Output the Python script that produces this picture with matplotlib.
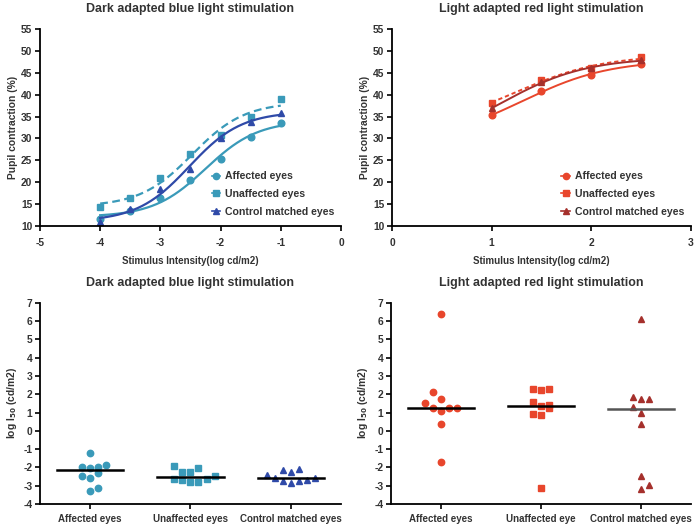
import matplotlib
matplotlib.use("Agg")
import matplotlib.pyplot as plt
from matplotlib.lines import Line2D
import numpy as np

plt.rcParams['font.family'] = ['Liberation Sans', 'DejaVu Sans']
plt.rcParams['font.weight'] = 'bold'
plt.rcParams['axes.unicode_minus'] = False

# Dose-response data (top row)
blue_x = [-4, -3.5, -3, -2.5, -2, -1.5, -1]
blue_affected = [11.5, 13.5, 16.3, 20.4, 25.3, 30.4, 33.5]
blue_unaffected = [14.4, 16.5, 20.9, 26.5, 30.8, 35.0, 39.0]
blue_control = [11.0, 13.8, 18.5, 23.0, 30.2, 33.8, 35.8]

red_x = [1, 1.5, 2, 2.5]
red_affected = [35.3, 40.8, 44.4, 47.0]
red_unaffected = [38.2, 43.3, 46.0, 48.5]
red_control = [36.9, 42.8, 46.0, 47.9]

# log I50 scatter data (bottom row)
groups_blue = ['Affected eyes', 'Unaffected eyes', 'Control matched eyes']
groups_red = ['Affected eyes', 'Unaffected eye', 'Control matched eyes']

i50_blue_aff = [-1.22, -1.96, -2.05, -1.96, -1.86, -2.45, -2.58, -2.28, -3.27, -3.10]
i50_blue_aff_off = [0, -1, 0, 1, 2, -1, 0, 1, 0, 1]
i50_blue_unaff = [-1.92, -2.23, -2.27, -2.05, -2.61, -2.69, -2.82, -2.82, -2.65, -2.49]
i50_blue_unaff_off = [-2, -1, 0, 1, -2, -1, 0, 1, 2, 3]
i50_blue_ctrl = [-2.43, -2.60, -2.16, -2.72, -2.27, -2.87, -2.08, -2.74, -2.69, -2.58]
i50_blue_ctrl_off = [-3, -2, -1, -1, 0, 0, 1, 1, 2, 3]
mean_blue = [-2.15, -2.52, -2.57]

i50_red_aff = [6.40, 2.12, 1.52, 1.75, 1.26, 1.10, 1.26, 1.26, 0.38, -1.68]
i50_red_aff_off = [0, -1, -2, 0, -1, 0, 1, 2, 0, 0]
i50_red_unaff = [2.28, 2.23, 2.28, 1.57, 1.37, 1.40, 1.26, 0.90, 0.84, -3.10]
i50_red_unaff_off = [-1, 0, 1, -1, 0, 1, 1, -1, 0, 0]
i50_red_ctrl = [6.12, 1.83, 1.75, 1.75, 1.33, 1.00, 0.40, -2.45, -3.18, -2.98]
i50_red_ctrl_off = [0, -1, 0, 1, -1, 0, 0, 0, 0, 1]
mean_red = [1.27, 1.38, 1.17]

teal = '#3a9ab9'
dblue = '#2f4aa8'
red = '#e8462c'
dred = '#a5302c'
txt = '#333333'


def fit_logistic(x, y, c_range):
    # log(agonist) vs response fit, standard slope, grid search on logEC50
    x = np.asarray(x, float)
    y = np.asarray(y, float)
    best = None
    for c in np.linspace(c_range[0], c_range[1], 401):
        s = 1.0 / (1.0 + 10 ** (c - x))
        A = np.column_stack([1 - s, s])
        coef, *_ = np.linalg.lstsq(A, y, rcond=None)
        err = np.sum((A @ coef - y) ** 2)
        if best is None or err < best[0]:
            best = (err, c, coef)
    _, c, coef = best

    def f(xx):
        s = 1.0 / (1.0 + 10 ** (c - xx))
        return coef[0] * (1 - s) + coef[1] * s
    return f


def style(ax):
    for s in ['top', 'right']:
        ax.spines[s].set_visible(False)
    for s in ['left', 'bottom']:
        ax.spines[s].set_linewidth(1.3)
    ax.tick_params(length=3.5, width=1.2, labelsize=7.4, colors='black',
                   labelcolor=txt, pad=2)
    for lab in ax.get_xticklabels() + ax.get_yticklabels():
        lab.set_fontweight('bold')


fig = plt.figure(figsize=(7, 5.28), dpi=100)

ax1 = fig.add_axes([0.0571, 0.572, 0.430, 0.373])
ax2 = fig.add_axes([0.560, 0.572, 0.427, 0.373])
ax3 = fig.add_axes([0.0571, 0.0455, 0.430, 0.381])
ax4 = fig.add_axes([0.5586, 0.0455, 0.4284, 0.381])

# top-left: dark adapted blue
xx = np.linspace(-4, -1, 200)
handles1 = []
for ys, col, mk, ls, lab in [(blue_affected, teal, 'o', '-', 'Affected eyes'),
                             (blue_unaffected, teal, 's', (0, (3.5, 2)), 'Unaffected eyes'),
                             (blue_control, dblue, '^', '-', 'Control matched eyes')]:
    f = fit_logistic(blue_x, ys, (-4, 0))
    ax1.plot(xx, f(xx), color=col, lw=1.6, ls=ls)
    ax1.plot(blue_x, ys, ls='none', marker=mk, ms=4.8, color=col)
    handles1.append(Line2D([], [], color=col, lw=1.2, marker=mk, ms=4.5, label=lab))

# top-right: light adapted red
xr = np.linspace(1, 2.5, 200)
handles2 = []
for ys, col, mk, ls, lab in [(red_affected, red, 'o', '-', 'Affected eyes'),
                             (red_unaffected, red, 's', (0, (2.2, 1.5)), 'Unaffected eyes'),
                             (red_control, dred, '^', '-', 'Control matched eyes')]:
    f = fit_logistic(red_x, ys, (-1, 3))
    ax2.plot(xr, f(xr), color=col, lw=1.4, ls=ls)
    ax2.plot(red_x, ys, ls='none', marker=mk, ms=4.8, color=col)
    handles2.append(Line2D([], [], color=col, lw=1.2, marker=mk, ms=4.5, label=lab))

for ax, hs, xl, xt, title in [(ax1, handles1, (-5, 0), range(-5, 1), 'Dark adapted blue light stimulation'),
                              (ax2, handles2, (0, 3), range(0, 4), 'Light adapted red light stimulation')]:
    ax.set_xlim(*xl)
    ax.set_xticks(list(xt))
    ax.set_ylim(10, 55)
    ax.set_yticks(range(10, 56, 5))
    style(ax)
    ax.tick_params(axis='x', pad=5)
    ax.set_title(title, fontsize=8.9, fontweight='bold', color=txt, pad=12)
    ax.set_ylabel('Pupil contraction (%)', fontsize=7.4, fontweight='bold', color=txt, labelpad=2)
    ax.set_xlabel('Stimulus Intensity(log cd/m2)', fontsize=7.0, fontweight='bold', color=txt, labelpad=6)
    leg = ax.legend(handles=hs, loc='lower right', bbox_to_anchor=(1.0, 0.015), frameon=False,
                    fontsize=7.6, handlelength=0.8, handletextpad=0.5, labelspacing=0.72,
                    borderaxespad=0.2)
    for t in leg.get_texts():
        t.set_color(txt)
        t.set_fontweight('bold')

# bottom scatter panels
jit = 0.08
for ax, data, groups, means, title, cols, mcols in [
        (ax3, [(i50_blue_aff, i50_blue_aff_off, 'o'), (i50_blue_unaff, i50_blue_unaff_off, 's'),
               (i50_blue_ctrl, i50_blue_ctrl_off, '^')],
         groups_blue, mean_blue, 'Dark adapted blue light stimulation',
         [teal, teal, dblue], ['black', 'black', 'black']),
        (ax4, [(i50_red_aff, i50_red_aff_off, 'o'), (i50_red_unaff, i50_red_unaff_off, 's'),
               (i50_red_ctrl, i50_red_ctrl_off, '^')],
         groups_red, mean_red, 'Light adapted red light stimulation',
         [red, red, dred], ['black', 'black', '#555555'])]:
    for i, (vals, offs, mk) in enumerate(data):
        pos = i + 1 + np.asarray(offs) * jit
        ax.plot(pos, vals, ls='none', marker=mk, ms=4.6, color=cols[i])
        ax.plot([i + 1 - 0.33, i + 1 + 0.33], [means[i], means[i]], color=mcols[i], lw=1.8)
    ax.set_xlim(0.5, 3.5)
    ax.set_xticks([1, 2, 3])
    ax.set_xticklabels(groups)
    ax.set_ylim(-4, 7)
    ax.set_yticks(range(-4, 8))
    style(ax)
    ax.tick_params(axis='x', pad=3.5, labelsize=7.0)
    ax.set_title(title, fontsize=8.9, fontweight='bold', color=txt, pad=12)
    ax.set_ylabel('log I$_{50}$ (cd/m2)', fontsize=7.4, fontweight='bold', color=txt, labelpad=3)

plt.savefig('out.png', dpi=100)
